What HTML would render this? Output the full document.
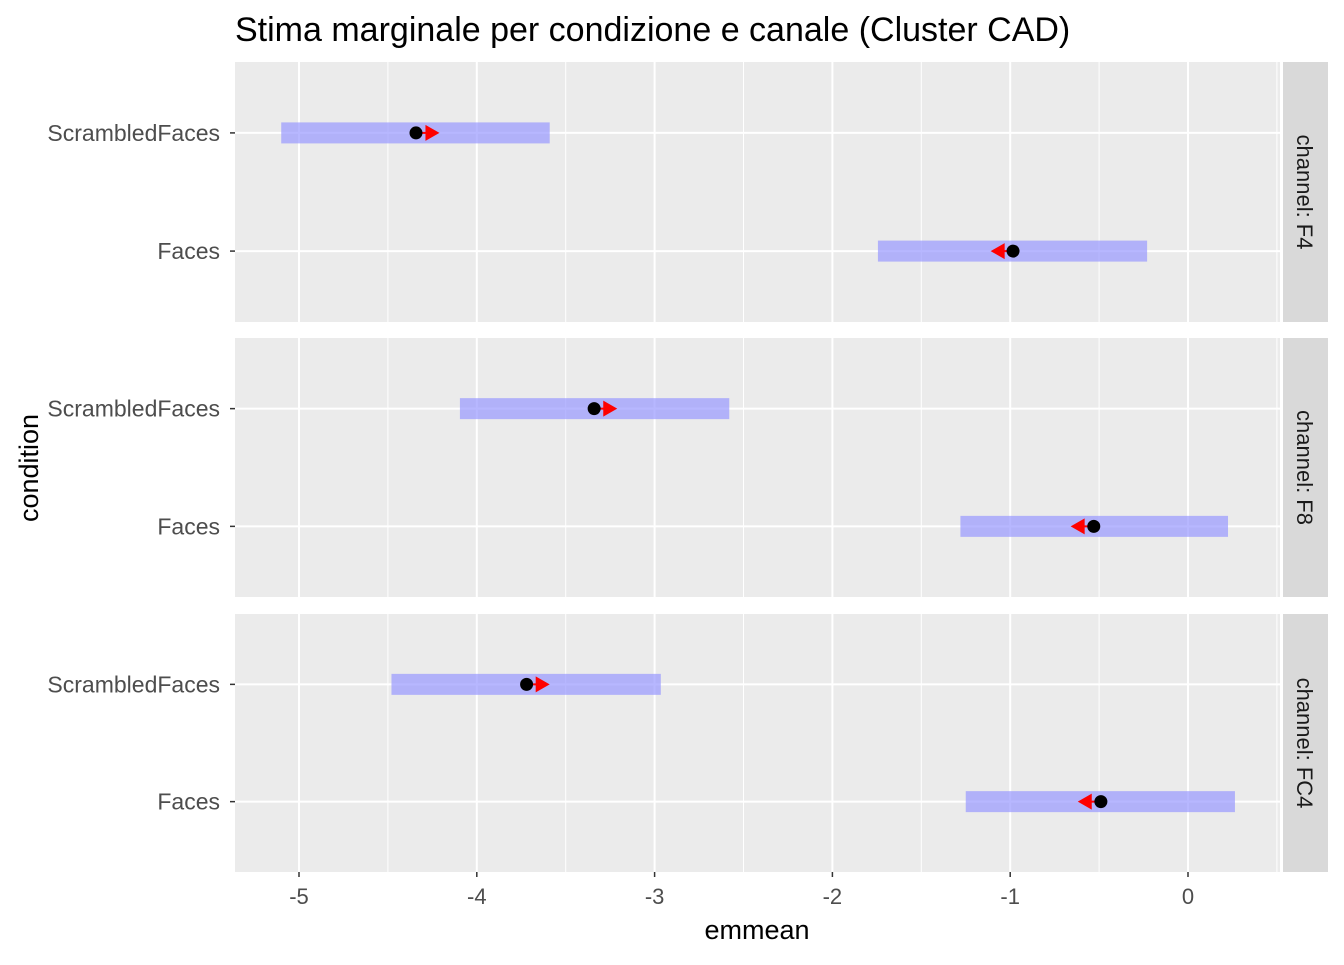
<!DOCTYPE html>
<html><head><meta charset="utf-8"><style>
body{margin:0;background:#fff;}
svg text{font-family:"Liberation Sans",Arial,sans-serif;}
</style></head><body>
<svg id="chart" width="1344" height="960" xmlns="http://www.w3.org/2000/svg"></svg>
<script>
const channels = ["F4","F8","FC4"];
const conditions = ["Faces","ScrambledFaces"];
const emmean = [[-0.984,-4.342],[-0.53,-3.34],[-0.49,-3.72]];
const lowerCL = [[-1.744,-5.10],[-1.28,-4.095],[-1.25,-4.48]];
const upperCL = [[-0.23,-3.59],[0.225,-2.58],[0.264,-2.965]];
const arrowTo = [[-1.11,-4.21],[-0.66,-3.21],[-0.62,-3.59]];
const xTicks = [-5,-4,-3,-2,-1,0];

const svg = document.getElementById('chart');
const NS = 'http://www.w3.org/2000/svg';
function mk(tag, attrs, parent){const e=document.createElementNS(NS,tag);for(const k in attrs)e.setAttribute(k,attrs[k]);(parent||svg).appendChild(e);return e;}
const PL=235, PR=1280;
const xS = v => 1188 + v*177.8;
const panels = [[62,322],[338,597],[614,872]];
const yS = (p,i) => { const [t,b]=panels[p]; const u=(b-t)/2.2; return b - (0.6+i)*u; };

const title = mk('text',{x:235,y:41,'font-size':34,fill:'#000'});
title.textContent='Stima marginale per condizione e canale (Cluster CAD)';



channels.forEach((ch,p)=>{
  const [t,b]=panels[p];
  const g = mk('g',{});
  
  
  mk('rect',{x:PL,y:t,width:PR-PL,height:b-t,fill:'#EBEBEB'},g);
  for(let k=0;k<xTicks.length-1;k++){const m=(xTicks[k]+xTicks[k+1])/2;mk('line',{x1:xS(m),x2:xS(m),y1:t,y2:b,stroke:'#fff','stroke-width':1},g);}
  mk('line',{x1:xS(0.5),x2:xS(0.5),y1:t,y2:b,stroke:'#fff','stroke-width':1},g);
  xTicks.forEach(v=>mk('line',{x1:xS(v),x2:xS(v),y1:t,y2:b,stroke:'#fff','stroke-width':2},g));
  conditions.forEach((c,i)=>{
    const y=yS(p,i);
    mk('line',{x1:PL,x2:PR,y1:y,y2:y,stroke:'#fff','stroke-width':2},g);
    mk('line',{x1:PL-5,x2:PL,y1:y,y2:y,stroke:'#333','stroke-width':1.5},g);
    const lab=mk('text',{x:PL-15,y:y+8,'font-size':23,fill:'#4D4D4D','text-anchor':'end'},g);
    lab.textContent=c;
    
    
  });
  conditions.forEach((c,i)=>{
    const y=yS(p,i);
    const bar=mk('rect',{x:xS(lowerCL[p][i]),y:y-10.5,width:xS(upperCL[p][i])-xS(lowerCL[p][i]),height:21,fill:'#9999FF','fill-opacity':0.7},g);
    
    
    const x0=xS(emmean[p][i]), x1=xS(arrowTo[p][i]); const d=Math.sign(x1-x0);
    const ln=mk('line',{x1:x0,x2:x1-d*12,y1:y,y2:y,stroke:'#FF0000','stroke-width':2},g);
    
    
    const hd=mk('polygon',{points:`${x1},${y} ${x1-d*14},${y-8} ${x1-d*14},${y+8}`,fill:'#FF0000'},g);
    
    
    const pt=mk('circle',{cx:x0,cy:y,r:6.5,fill:'#000'},g);
    
    
  });
  const st=mk('rect',{x:1283,y:t,width:45,height:b-t,fill:'#D9D9D9'},g);
  
  
  const cy=(t+b)/2;
  const stx=mk('text',{x:1297,y:cy,'font-size':22,fill:'#1A1A1A','text-anchor':'middle',transform:`rotate(90 1297 ${cy})`},g);
  stx.textContent='channel: '+ch;
  
  
});
xTicks.forEach(v=>{
  mk('line',{x1:xS(v),x2:xS(v),y1:872,y2:877,stroke:'#333','stroke-width':1.5});
  const tx=mk('text',{x:xS(v),y:904,'font-size':22,fill:'#4D4D4D','text-anchor':'middle'});
  tx.textContent=String(v);
  
  
});
const xt=mk('text',{x:757,y:939,'font-size':27,fill:'#000','text-anchor':'middle'});
xt.textContent='emmean';


const yt=mk('text',{x:38,y:468,'font-size':27,fill:'#000','text-anchor':'middle',transform:'rotate(-90 38 468)'});
yt.textContent='condition';


</script>
</body></html>
